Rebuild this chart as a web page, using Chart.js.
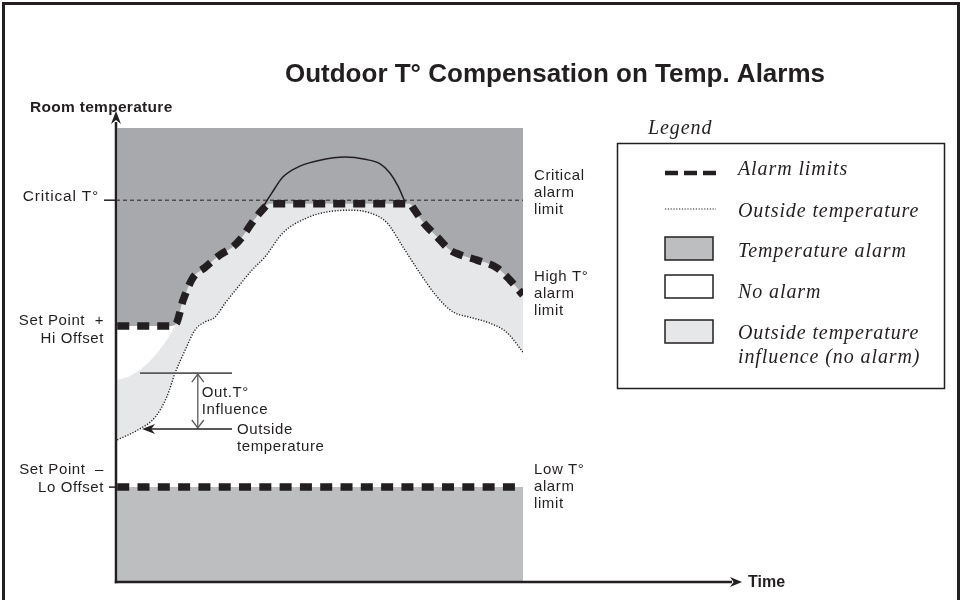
<!DOCTYPE html>
<html>
<head>
<meta charset="utf-8">
<script src="https://cdn.jsdelivr.net/npm/chart.js@4.4.1/dist/chart.umd.min.js"></script>
<style>
  html, body { margin: 0; padding: 0; background: #fff; }
  #wrap { width: 964px; height: 600px; }
</style>
</head>
<body>
<div id="wrap"><canvas id="alarms" width="964" height="600"></canvas></div>
<script>
// time runs 0..100 across the alarm band, room temperature 0..100 from the time axis up to the band ceiling
const alarmCeiling = 100;
const criticalTemp = 84.1;
const hiOffsetTemp = 56.4;
const loOffsetTemp = 20.9;

// high alarm limit: set point + hi offset, pushed up by outdoor temperature, capped at critical
const highLimitTime = [0.3, 13.3, 14.7, 16.5, 18.9, 21.9, 25.6, 28.7, 31.0, 33.4, 35.9, 37.8, 72.2, 73.0, 75.4, 78.9, 82.1, 84.5, 88.7, 93.6, 96.8, 100];
const highLimitTemp = [56.4, 56.4, 56.8, 62.1, 67.0, 69.3, 72.1, 73.8, 76.0, 79.1, 81.9, 83.3, 83.3, 82.4, 79.3, 76.0, 73.1, 72.1, 70.9, 69.2, 66.5, 63.2];

// upper edge of the outdoor influence band
const influenceTime = [0.3, 3.9, 7.9, 11.3, 13.8, 15.5, 16.5, 18.9, 21.9, 25.6, 28.7, 31.0, 33.4, 35.9, 37.8, 72.2, 73.0, 75.4, 78.9, 82.1, 84.5, 88.7, 93.6, 96.8, 100];
const influenceTemp = [44.5, 45.6, 48.3, 51.8, 55.3, 58.6, 62.1, 67.0, 69.3, 72.1, 73.8, 76.0, 79.1, 81.9, 83.3, 83.3, 82.4, 79.3, 76.0, 73.1, 72.1, 70.9, 69.2, 66.5, 63.2];

// outside temperature
const outsideTime = [0.3, 5.4, 9.6, 12.5, 14.5, 17.0, 19.4, 21.9, 24.3, 26.8, 30.0, 33.4, 36.6, 41.0, 46.9, 51.8, 57.5, 62.4, 66.6, 70.5, 74.7, 78.9, 82.8, 87.0, 91.9, 96.1, 100];
const outsideTemp = [31.3, 33.5, 36.3, 40.8, 46.0, 51.1, 55.5, 57.3, 58.3, 61.4, 65.0, 68.7, 71.6, 76.9, 80.2, 81.5, 81.9, 81.3, 79.1, 73.8, 68.0, 62.8, 59.5, 58.3, 57.0, 54.9, 50.6];

// uncapped compensated limit, above the critical line
const uncappedTime = [36.1, 38.3, 41.0, 45.2, 50.1, 56.3, 61.2, 64.9, 67.3, 69.3, 71.0];
const uncappedTemp = [82.6, 85.7, 89.2, 91.6, 92.9, 93.6, 93.1, 92.1, 90.1, 87.2, 83.7];

const bandTime = [0.3, 100];
const criticalTime = [0, 100];

// "Out.T° Influence" marker
const markerTopTemp = 46.0;
const markerOutsideTemp = 33.7;
const markerSpan = [5.9, 28.5];
const markerArrowTime = 20.1;
const pointerTime = [6.4, 28.5];

const INK = '#231f20';
const ALARM_GREY = '#a7a9ac';
const LOW_GREY = '#bcbec0';
const INFLUENCE_GREY = '#e6e7e8';
const SANS = '"Liberation Sans", Arial, sans-serif';
const SERIF = '"Liberation Serif", "Times New Roman", serif';

const toPoints = (xs, ys) => xs.map((x, i) => ({ x, y: ys[i] }));
const flat = (xs, v) => xs.map((x) => ({ x, y: v }));

function text(ctx, str, x, y, font, align, spacing) {
  ctx.font = font;
  ctx.textAlign = align || 'left';
  ctx.textBaseline = 'middle';
  if ('letterSpacing' in ctx) ctx.letterSpacing = spacing || '0px';
  ctx.fillText(str, x, y);
}

function seg(ctx, x1, y1, x2, y2) {
  ctx.beginPath();
  ctx.moveTo(x1, y1);
  ctx.lineTo(x2, y2);
  ctx.stroke();
}

// filled arrow head, tip at (x, y), pointing along angle
function head(ctx, x, y, angle, len, half) {
  ctx.save();
  ctx.translate(x, y);
  ctx.rotate(angle);
  ctx.beginPath();
  ctx.moveTo(0, 0);
  ctx.lineTo(-len, -half);
  ctx.lineTo(-len * 0.7, 0);
  ctx.lineTo(-len, half);
  ctx.closePath();
  ctx.fill();
  ctx.restore();
}

function chevron(ctx, x, y, dir) {
  ctx.beginPath();
  ctx.moveTo(x - 6, y + dir * 8);
  ctx.lineTo(x, y);
  ctx.lineTo(x + 6, y + dir * 8);
  ctx.stroke();
}

const diagramDecor = {
  id: 'diagramDecor',
  afterDraw(chart) {
    const { ctx, scales: { x, y } } = chart;
    const px = (t) => x.getPixelForValue(t);
    const py = (v) => y.getPixelForValue(v);
    const x0 = px(0);
    const y0 = py(0);
    const xEnd = px(100);

    ctx.save();
    ctx.fillStyle = INK;
    ctx.strokeStyle = INK;

    // frame
    ctx.lineWidth = 3;
    ctx.strokeRect(3.5, 3.5, 955, 620);

    // title and axis names
    text(ctx, 'Outdoor T° Compensation on Temp. Alarms', 555, 75, 'bold 26px ' + SANS, 'center');
    text(ctx, 'Room temperature', 30, 108, 'bold 15.5px ' + SANS, 'left', '0.3px');
    text(ctx, 'Time', 748, y0 + 1, 'bold 16px ' + SANS);

    // axes
    ctx.lineWidth = 2.5;
    seg(ctx, x0, y0 + 1.2, x0, 122);
    head(ctx, x0, 111, -Math.PI / 2, 13, 5);
    seg(ctx, x0 - 1.2, y0, 732, y0);
    head(ctx, 742, y0, 0, 12, 5);

    // level ticks
    ctx.lineWidth = 1.5;
    seg(ctx, 104, py(criticalTemp), x0, py(criticalTemp));
    seg(ctx, 109, py(loOffsetTemp), x0, py(loOffsetTemp));

    // level labels on the left
    const f = '15px ' + SANS;
    const sp = '0.6px';
    text(ctx, 'Critical T°', 99, py(criticalTemp) - 3, '15.5px ' + SANS, 'right', '0.8px');
    text(ctx, 'Set Point  +', 104, py(hiOffsetTemp) - 5, f, 'right', sp);
    text(ctx, 'Hi Offset', 104, py(hiOffsetTemp) + 13, f, 'right', sp);
    text(ctx, 'Set Point  –', 104, py(loOffsetTemp) - 17, f, 'right', sp);
    text(ctx, 'Lo Offset', 104, py(loOffsetTemp) + 1, f, 'right', sp);

    // limit labels on the right
    const rx = xEnd + 11;
    const lh = 17;
    const crit = py(criticalTemp) - 24;
    ['Critical', 'alarm', 'limit'].forEach((s, i) => text(ctx, s, rx, crit + i * lh, f, 'left', sp));
    const high = py(highLimitTemp[highLimitTemp.length - 1]) - 18;
    ['High T°', 'alarm', 'limit'].forEach((s, i) => text(ctx, s, rx, high + i * lh, f, 'left', sp));
    const low = py(loOffsetTemp) - 17;
    ['Low T°', 'alarm', 'limit'].forEach((s, i) => text(ctx, s, rx, low + i * lh, f, 'left', sp));

    // outdoor influence marker
    const yTop = py(markerTopTemp);
    const yOut = py(markerOutsideTemp);
    const xm = px(markerArrowTime);
    ctx.strokeStyle = '#58595b';
    ctx.lineWidth = 1.6;
    seg(ctx, px(markerSpan[0]), yTop, px(markerSpan[1]), yTop);
    ctx.lineWidth = 1.3;
    seg(ctx, xm, yTop + 1, xm, yOut - 1);
    chevron(ctx, xm, yTop + 1, 1);
    chevron(ctx, xm, yOut - 1, -1);
    ctx.strokeStyle = INK;
    ctx.lineWidth = 1.5;
    seg(ctx, px(pointerTime[0]) + 8, yOut, px(pointerTime[1]), yOut);
    head(ctx, px(pointerTime[0]), yOut, Math.PI, 13, 5);
    text(ctx, 'Out.T°', xm + 4, yTop + 20, f, 'left', sp);
    text(ctx, 'Influence', xm + 4, yTop + 37, f, 'left', sp);
    text(ctx, 'Outside', px(pointerTime[1]) + 5, yOut + 1, f, 'left', sp);
    text(ctx, 'temperature', px(pointerTime[1]) + 5, yOut + 18, f, 'left', sp);

    // legend
    const lf = 'italic 20px ' + SERIF;
    const ls = '0.9px';
    text(ctx, 'Legend', 648, 129, lf, 'left', ls);
    ctx.lineWidth = 1.5;
    ctx.strokeRect(617.5, 143.5, 327, 245);

    ctx.lineWidth = 4.5;
    [665, 684, 703].forEach((sx) => seg(ctx, sx, 173, sx + 13, 173));
    text(ctx, 'Alarm limits', 738, 170, lf, 'left', ls);

    ctx.lineWidth = 1.2;
    ctx.setLineDash([1.2, 1.6]);
    seg(ctx, 665, 209, 716, 209);
    ctx.setLineDash([]);
    text(ctx, 'Outside temperature', 738, 212, lf, 'left', ls);

    const swatches = [
      [237, LOW_GREY, 'Temperature alarm', 252],
      [275, '#ffffff', 'No alarm', 293],
      [320, INFLUENCE_GREY, 'Outside temperature', 334]
    ];
    ctx.lineWidth = 1.5;
    swatches.forEach(([top, color, label, ty]) => {
      ctx.fillStyle = color;
      ctx.fillRect(665, top, 48, 23);
      ctx.strokeRect(665, top, 48, 23);
      ctx.fillStyle = INK;
      text(ctx, label, 738, ty, lf, 'left', ls);
    });
    text(ctx, 'influence (no alarm)', 738, 358, lf, 'left', ls);

    ctx.restore();
  }
};

new Chart(document.getElementById('alarms'), {
  type: 'line',
  data: {
    datasets: [
      {
        label: 'High alarm limit',
        data: toPoints(highLimitTime, highLimitTemp),
        borderColor: INK, borderWidth: 7.5, borderDash: [12, 8], borderCapStyle: 'butt',
        cubicInterpolationMode: 'monotone', fill: false
      },
      {
        label: 'Low alarm limit',
        data: flat(bandTime, loOffsetTemp),
        borderColor: INK, borderWidth: 7.5, borderDash: [12, 8.3], fill: false
      },
      {
        label: 'Uncapped limit',
        data: toPoints(uncappedTime, uncappedTemp),
        borderColor: INK, borderWidth: 1.5, cubicInterpolationMode: 'monotone', fill: false
      },
      {
        label: 'Critical T°',
        data: flat(criticalTime, criticalTemp),
        borderColor: INK, borderWidth: 1, borderDash: [4, 3], fill: false
      },
      {
        label: 'Outside temperature',
        data: toPoints(outsideTime, outsideTemp),
        borderColor: INK, borderWidth: 1.4, borderDash: [1.2, 1.6],
        cubicInterpolationMode: 'monotone', fill: false
      },
      {
        label: 'Temperature alarm (high)',
        data: toPoints(highLimitTime, highLimitTemp),
        borderWidth: 0, borderColor: 'transparent', backgroundColor: ALARM_GREY,
        cubicInterpolationMode: 'monotone', fill: 'end'
      },
      {
        label: 'Temperature alarm (low)',
        data: flat(bandTime, loOffsetTemp),
        borderWidth: 0, borderColor: 'transparent', backgroundColor: LOW_GREY, fill: 'start'
      },
      {
        label: 'Outside temperature influence',
        data: toPoints(influenceTime, influenceTemp),
        borderWidth: 0, borderColor: 'transparent', backgroundColor: INFLUENCE_GREY,
        cubicInterpolationMode: 'monotone', fill: 4
      }
    ]
  },
  options: {
    responsive: false,
    animation: false,
    layout: { padding: { left: 116, right: 441, top: 128, bottom: 18 } },
    elements: { point: { radius: 0 } },
    scales: {
      x: { type: 'linear', min: 0, max: 100, display: false },
      y: { min: 0, max: alarmCeiling, display: false }
    },
    plugins: {
      legend: { display: false },
      tooltip: { enabled: false },
      filler: { drawTime: 'beforeDatasetsDraw' }
    }
  },
  plugins: [diagramDecor]
});
</script>
</body>
</html>
